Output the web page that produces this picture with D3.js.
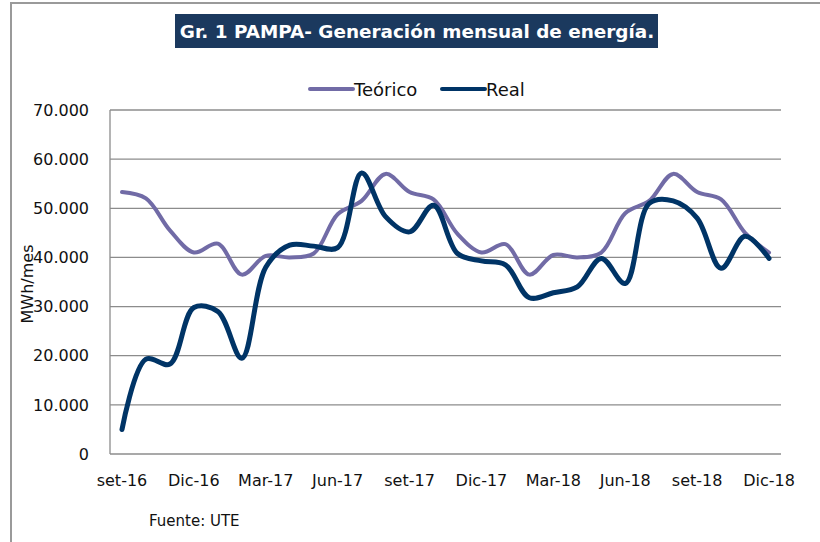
<!DOCTYPE html>
<html>
<head>
<meta charset="utf-8">
<script src="https://cdn.jsdelivr.net/npm/d3@7"></script>
<style>
  body { margin: 0; background: #fff; }
  text { font-family: "DejaVu Sans", sans-serif; }
</style>
</head>
<body>
<div id="chart"></div>
<script>
// months from set-16 to Dic-18
const months = ["set-16","oct-16","nov-16","Dic-16","ene-17","feb-17","Mar-17","abr-17","may-17","Jun-17","jul-17","ago-17",
                "set-17","oct-17","nov-17","Dic-17","ene-18","feb-18","Mar-18","abr-18","may-18","Jun-18","jul-18","ago-18",
                "set-18","oct-18","nov-18","Dic-18"];
const tickMonths = ["set-16","Dic-16","Mar-17","Jun-17","set-17","Dic-17","Mar-18","Jun-18","set-18","Dic-18"];
const teorico = [53300, 52000, 45500, 41000, 42800, 36500, 40300, 40000, 40800, 48800, 51500, 57000,
                 53300, 51800, 44800, 41000, 42700, 36500, 40500, 40000, 41000, 49000, 51500, 57000,
                 53300, 51800, 45000, 41000];
const real = [5000, 19300, 18300, 29800, 29000, 19500, 38000, 42500, 42300, 42000, 57200, 48300,
              45200, 50600, 40800, 39300, 38500, 31800, 32800, 34000, 39800, 34700, 51000, 51500,
              48000, 37800, 44300, 39800];
const yTicks = [0, 10000, 20000, 30000, 40000, 50000, 60000, 70000];

const width = 820, height = 542;
const plot = {left: 110, right: 781, top: 110, bottom: 454};

const svg = d3.select("#chart").append("svg")
    .attr("width", width)
    .attr("height", height);

// outer frame (top and left edges visible)
svg.append("path")
    .attr("d", "M11,542 L11,3 L820,3")
    .attr("fill", "none")
    .attr("stroke", "#9a9a9a")
    .attr("stroke-width", 2);

// title box
svg.append("rect")
    .attr("x", 175).attr("y", 14)
    .attr("width", 483).attr("height", 34)
    .attr("fill", "#1b395e");
svg.append("text")
    .attr("x", 417).attr("y", 38)
    .attr("text-anchor", "middle")
    .attr("fill", "#fff")
    .attr("font-weight", "bold")
    .attr("font-size", 18.4)
    .text("Gr. 1 PAMPA- Generación mensual de energía.");

const x = d3.scalePoint()
    .domain(months)
    .range([plot.left, plot.right])
    .padding(0.5);

const y = d3.scaleLinear()
    .domain([0, 70000])
    .range([plot.bottom, plot.top]);

const fmt = d => d === 0 ? "0" : d3.format(",")(d).replace(/,/g, ".");

// gridlines
svg.append("g")
    .selectAll("line")
    .data(yTicks)
    .join("line")
    .attr("x1", plot.left).attr("x2", plot.right)
    .attr("y1", d => y(d)).attr("y2", d => y(d))
    .attr("stroke", "#8c8c8c")
    .attr("stroke-width", 1.3);

// left axis line
svg.append("line")
    .attr("x1", plot.left).attr("x2", plot.left)
    .attr("y1", plot.top).attr("y2", plot.bottom)
    .attr("stroke", "#8c8c8c")
    .attr("stroke-width", 1.3);

// y tick labels
svg.append("g")
    .selectAll("text")
    .data(yTicks)
    .join("text")
    .attr("x", 89)
    .attr("y", d => y(d))
    .attr("dy", "0.36em")
    .attr("text-anchor", "end")
    .attr("font-size", 16)
    .attr("fill", "#111")
    .text(fmt);

// x tick labels
svg.append("g")
    .selectAll("text")
    .data(tickMonths)
    .join("text")
    .attr("x", d => x(d))
    .attr("y", 486)
    .attr("text-anchor", "middle")
    .attr("font-size", 16)
    .attr("fill", "#111")
    .text(d => d);

// y axis title
svg.append("text")
    .attr("transform", "translate(33,284) rotate(-90)")
    .attr("text-anchor", "middle")
    .attr("font-size", 16)
    .attr("fill", "#111")
    .text("MWh/mes");

// lines
const line = d3.line()
    .x((d, i) => x(months[i]))
    .y(d => y(d))
    .curve(d3.curveCatmullRom);

const series = [
    {name: "Teórico", values: teorico, color: "#716ba6", width: 4},
    {name: "Real", values: real, color: "#003466", width: 5}
];

series.forEach(s => {
    svg.append("path")
        .datum(s.values)
        .attr("d", line)
        .attr("fill", "none")
        .attr("stroke", s.color)
        .attr("stroke-width", s.width)
        .attr("stroke-linejoin", "round")
        .attr("stroke-linecap", "round");
});

// legend
const legendX = [310, 442];
series.forEach((s, i) => {
    const g = svg.append("g").attr("transform", `translate(${legendX[i]},89)`);
    g.append("line")
        .attr("x1", 0).attr("x2", 43)
        .attr("stroke", s.color)
        .attr("stroke-width", 4)
        .attr("stroke-linecap", "round");
    g.append("text")
        .attr("x", 44)
        .attr("y", 7)
        .attr("font-size", 18)
        .attr("fill", "#111")
        .text(s.name);
});

// source
svg.append("text")
    .attr("x", 149).attr("y", 526)
    .attr("font-size", 15)
    .attr("fill", "#111")
    .text("Fuente: UTE");
</script>
</body>
</html>
